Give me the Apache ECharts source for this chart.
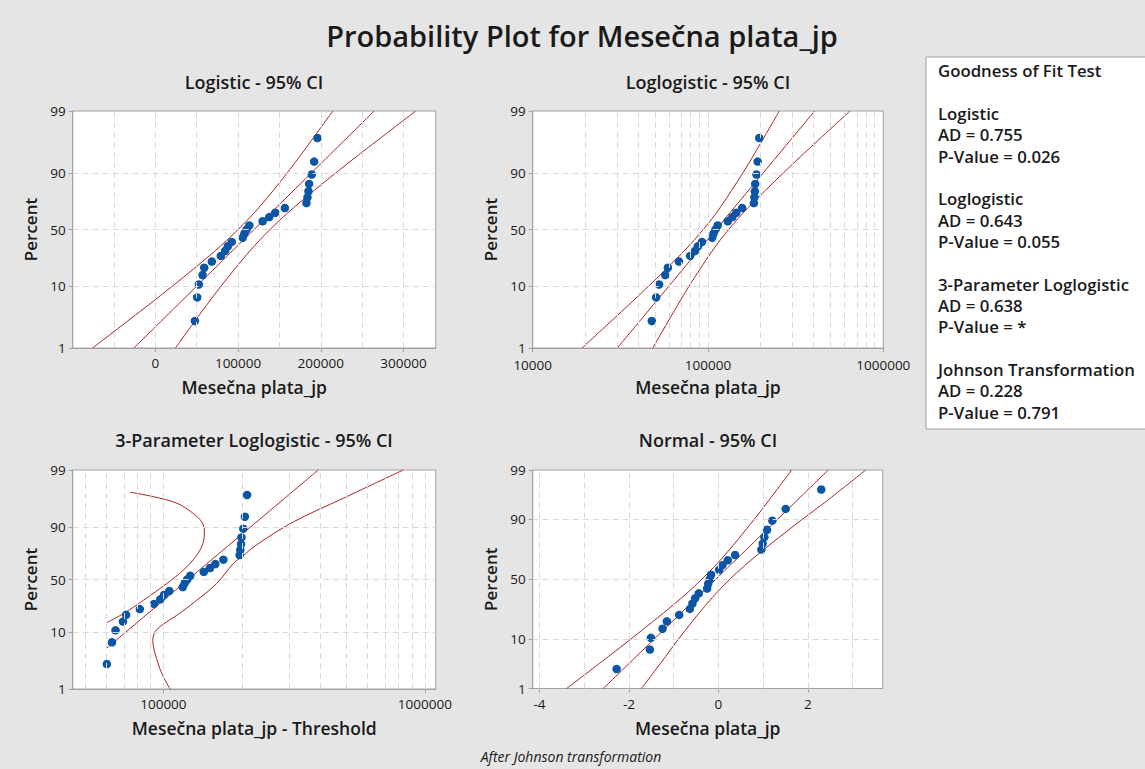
<!DOCTYPE html>
<html>
<head>
<meta charset="utf-8">
<script src="https://cdn.jsdelivr.net/npm/echarts@6/dist/echarts.min.js"></script>
<style>
html,body{margin:0;padding:0;background:#ffffff;}
#chart{width:1145px;height:769px;}
</style>
</head>
<body>
<div id="chart"></div>
<script>
// ================= DATA =================
// plotting positions (percent) of the 25 ranked observations
const PLOT_PCT = [2.8, 6.7, 10.6, 14.6, 18.5, 22.4, 26.4, 30.3, 34.3, 38.2, 42.1, 46.1, 50.0,
                  53.9, 57.9, 61.8, 65.7, 69.7, 73.6, 77.6, 81.5, 85.4, 89.4, 93.3, 97.2];
// Mesečna plata_jp (sorted)
const SALARY = [47790, 50600, 52610, 57030, 59030, 68270, 79100, 84340, 87550, 92370, 105600, 107600, 110400,
                113650, 129700, 137700, 145000, 156600, 182700, 183900, 185100, 185900, 189100, 192000, 196000];
// 3-parameter loglogistic threshold
const THRESHOLD = -13000;
// values after Johnson transformation
const JOHNSON = [-2.275, -1.532, -1.509, -1.249, -1.152, -0.877, -0.639, -0.580, -0.520, -0.439, -0.253, -0.230, -0.193,
                 -0.164, 0.015, 0.089, 0.208, 0.372, 0.959, 0.989, 1.026, 1.086, 1.204, 1.502, 2.297];

// fitted lines and 95% CI bands: [x, percent]
const LOGI_FIT = [[-25900, 1], [119350, 50], [264600, 99]];
const LOGI_CI_LO = [[-75900, 1], [-9080, 5], [20600, 10], [71500, 30], [100000, 50], [125100, 70], [159500, 90], [177100, 95], [214700, 99]];
const LOGI_CI_HI = [[24200, 1], [61600, 5], [79300, 10], [113800, 30], [138700, 50], [167300, 70], [218200, 90], [247900, 95], [314800, 99]];

const LLOG_FIT = [[30380, 1], [111100, 50], [406000, 99]];
const LLOG_CI_LO = [[19100, 1], [35050, 5], [45830, 10], [72740, 30], [94000, 50], [117200, 70], [158200, 90], [184400, 95], [255200, 99]];
const LLOG_CI_HI = [[48370, 1], [66940, 5], [77980, 10], [105250, 30], [131200, 50], [169600, 70], [269300, 90], [352200, 95], [645600, 99]];

// 3-parameter loglogistic (x = Mesečna plata_jp - Threshold)
const TPLL_FIT = [[60400, 5.2], [124400, 50], [391000, 99]];
const TPLL_CI_LO = [[60780, 14.1], [70350, 19.3], [83880, 29.5], [103000, 45.8], [119200, 59.7], [134200, 73.5], [142200, 82.9],
                    [143500, 88.8], [140200, 91.8], [130200, 94.1], [112500, 96.1], [91580, 97.0], [74640, 97.5]];
const TPLL_CI_HI = [[106100, 1], [98600, 1.9], [92960, 4.3], [91090, 7.2], [92960, 10.0], [98600, 12.8], [112500, 18.2],
                    [134200, 29.5], [159900, 45.8], [185100, 66.2], [199300, 72.1], [226000, 80.8],
                    [314000, 91.8], [487400, 96.8], [826000, 99]];

const NORM_FIT = [[-2.573, 1], [-0.059, 50], [2.455, 99]];
const NORM_CI_LO = [[-3.392, 1], [-2.457, 5], [-1.966, 10], [-0.981, 30], [-0.372, 50], [0.151, 70], [0.805, 90], [1.099, 95], [1.636, 99]];
const NORM_CI_HI = [[-1.720, 1], [-1.180, 5], [-0.900, 10], [-0.260, 30], [0.254, 50], [0.875, 70], [1.880, 90], [2.390, 95], [3.290, 99]];

// tick labels and grid lines
const Y_TICKS = [1, 10, 50, 90, 99];
const Y_GRID = [10, 50, 90];
const X1_TICKS = [0, 100000, 200000, 300000];
const X1_GRID = [-50000, 0, 50000, 100000, 150000, 200000, 250000, 300000];
const X2_TICKS = [10000, 100000, 1000000];
const X2_GRID = [20000, 30000, 40000, 50000, 60000, 70000, 80000, 90000, 100000, 200000, 300000, 400000, 500000, 600000, 700000, 800000, 900000];
const X3_TICKS = [100000, 1000000];
const X3_GRID = [50000, 60000, 70000, 80000, 90000, 100000, 200000, 300000, 400000, 500000, 600000, 700000, 800000, 900000, 1000000];
const X4_TICKS = [-4, -2, 0, 2];
const X4_GRID = [-4, -3, -2, -1, 0, 1, 2, 3];

// texts
const MAIN_TITLE = 'Probability Plot for Mesečna plata_jp';
const PANEL_TITLES = ['Logistic - 95% CI', 'Loglogistic - 95% CI', '3-Parameter Loglogistic - 95% CI', 'Normal - 95% CI'];
const X_NAMES = ['Mesečna plata_jp', 'Mesečna plata_jp', 'Mesečna plata_jp - Threshold', 'Mesečna plata_jp'];
const Y_NAME = 'Percent';
const FOOTNOTE = 'After Johnson transformation';
const GOF_TITLE = 'Goodness of Fit Test';
const GOF_DIST = ['Logistic', 'Loglogistic', '3-Parameter Loglogistic', 'Johnson Transformation'];
const GOF_AD = ['0.755', '0.643', '0.638', '0.228'];
const GOF_P = ['0.026', '0.055', '*', '0.791'];

// ================= SCALE HELPERS (probability / log axes) =================
function invNorm(p) {
  const a = [-3.969683028665376e+01, 2.209460984245205e+02, -2.759285104469687e+02, 1.383577518672690e+02, -3.066479806614716e+01, 2.506628277459239e+00];
  const b = [-5.447609879822406e+01, 1.615858368580409e+02, -1.556989798598866e+02, 6.680131188771972e+01, -1.328068155288572e+01];
  const c = [-7.784894002430293e-03, -3.223964580411365e-01, -2.400758277161838e+00, -2.549732539343734e+00, 4.374664141464968e+00, 2.938163982698783e+00];
  const d = [7.784695709041462e-03, 3.224671290700398e-01, 2.445134137142996e+00, 3.754408661907416e+00];
  const pl = 0.02425, ph = 1 - pl;
  let q, r;
  if (p < pl) { q = Math.sqrt(-2 * Math.log(p)); return (((((c[0]*q+c[1])*q+c[2])*q+c[3])*q+c[4])*q+c[5]) / ((((d[0]*q+d[1])*q+d[2])*q+d[3])*q+1); }
  if (p <= ph) { q = p - 0.5; r = q*q; return (((((a[0]*r+a[1])*r+a[2])*r+a[3])*r+a[4])*r+a[5])*q / (((((b[0]*r+b[1])*r+b[2])*r+b[3])*r+b[4])*r+1); }
  q = Math.sqrt(-2 * Math.log(1 - p));
  return -(((((c[0]*q+c[1])*q+c[2])*q+c[3])*q+c[4])*q+c[5]) / ((((d[0]*q+d[1])*q+d[2])*q+d[3])*q+1);
}
const tLogit = p => Math.log(p / (100 - p));
const tProbit = p => invNorm(p / 100);
const tLin = v => v;
const tLog = v => Math.log10(v);
const tLogShift = v => Math.log10(v - THRESHOLD);

function nearestLabel(v, ticks, tf) {
  let best = ticks[0], bd = Infinity;
  ticks.forEach(t => { const d = Math.abs(tf(t) - v); if (d < bd) { bd = d; best = t; } });
  return String(best);
}

// ================= LAYOUT =================
const FONT = "'Open Sans', 'Noto Sans', 'DejaVu Sans', sans-serif";
const TXT = '#1a1a1a';
const FRAME = '#a0a0a0';
const GRIDC = '#d9d9d9';
const CURVE = '#a82424';
const DOT = '#0b55a6';

const PANELS = [
  { rect: [72.7, 111, 363, 237], xr: [-100000, 339000], px: tLin, cx: tLin, ty: tLogit, xMargin: 8,
    xTicks: X1_TICKS, xGrid: X1_GRID, xv: SALARY, curves: [LOGI_CI_LO, LOGI_CI_HI, LOGI_FIT] },
  { rect: [532.7, 111, 350.6, 237], xr: [10000, 1000000], px: tLog, cx: tLog, ty: tLogit, xMargin: 10,
    xTicks: X2_TICKS, xGrid: X2_GRID, xv: SALARY, curves: [LLOG_CI_LO, LLOG_CI_HI, LLOG_FIT] },
  { rect: [72.7, 470, 363, 219], xr: [45000, 1100000], px: tLogShift, cx: tLog, ty: tLogit, xMargin: 8,
    xTicks: X3_TICKS, xGrid: X3_GRID, xv: SALARY, curves: [TPLL_CI_LO, TPLL_CI_HI, TPLL_FIT] },
  { rect: [532.7, 470, 350, 218.5], xr: [-4.15, 3.67], px: tLin, cx: tLin, ty: tProbit, xMargin: 8,
    xTicks: X4_TICKS, xGrid: X4_GRID, xv: JOHNSON, curves: [NORM_CI_LO, NORM_CI_HI, NORM_FIT] }
];

const grids = [], xAxes = [], yAxes = [], series = [];
PANELS.forEach((p, i) => {
  grids.push({ left: p.rect[0], top: p.rect[1], width: p.rect[2], height: p.rect[3], show: true,
               backgroundColor: '#ffffff', borderColor: FRAME, borderWidth: 1 });
  const xtf = p.cx;
  xAxes.push({
    gridIndex: i, type: 'value', min: xtf(p.xr[0]), max: xtf(p.xr[1]),
    splitLine: { show: false },
    axisLine: { show: true, onZero: false, lineStyle: { color: FRAME } },
    axisTick: { show: true, customValues: p.xTicks.map(xtf), length: 4, lineStyle: { color: FRAME } },
    axisLabel: { customValues: p.xTicks.map(xtf), formatter: v => nearestLabel(v, p.xTicks, xtf),
                 color: TXT, fontSize: 13.5, fontFamily: FONT, margin: p.xMargin },
    name: X_NAMES[i], nameLocation: 'middle', nameGap: 30,
    nameTextStyle: { color: TXT, fontSize: 17.5, fontWeight: 600, fontFamily: FONT }
  });
  yAxes.push({
    gridIndex: i, type: 'value', min: p.ty(1), max: p.ty(99),
    splitLine: { show: false },
    axisLine: { show: true, onZero: false, lineStyle: { color: FRAME } },
    axisTick: { show: true, customValues: Y_TICKS.map(p.ty), length: 4, lineStyle: { color: FRAME } },
    axisLabel: { customValues: Y_TICKS.map(p.ty), formatter: v => nearestLabel(v, Y_TICKS, p.ty),
                 color: TXT, fontSize: 13.5, fontFamily: FONT, margin: 7 },
    name: Y_NAME, nameLocation: 'middle', nameGap: 34,
    nameTextStyle: { color: TXT, fontSize: 17, fontWeight: 600, fontFamily: FONT }
  });
  // dashed reference grid
  series.push({
    type: 'line', xAxisIndex: i, yAxisIndex: i, data: [], silent: true, z: 1,
    markLine: {
      silent: true, symbol: ['none', 'none'], animation: false, label: { show: false },
      lineStyle: { color: GRIDC, width: 1, type: [6, 4] },
      emphasis: { disabled: true },
      data: p.xGrid.map(v => ({ xAxis: xtf(v) })).concat(Y_GRID.map(v => ({ yAxis: p.ty(v) })))
    }
  });
  // CI curves and fit line
  p.curves.forEach(c => {
    series.push({
      type: 'line', xAxisIndex: i, yAxisIndex: i, silent: true, z: 2, symbol: 'none', showSymbol: false,
      smooth: 0.35,
      color: CURVE, itemStyle: { color: CURVE },
      lineStyle: { color: CURVE, width: 1, opacity: 1 },
      emphasis: { disabled: true },
      data: c.map(([x, pc]) => [p.cx(x), p.ty(pc)])
    });
  });
  // observations
  series.push({
    type: 'scatter', xAxisIndex: i, yAxisIndex: i, z: 3, symbolSize: 8.5,
    itemStyle: { color: DOT, opacity: 1 },
    data: p.xv.map((v, k) => [p.px(v), p.ty(PLOT_PCT[k])])
  });
});

// ================= TEXT GRAPHICS =================
function txt(text, x, y, size, weight, align, extra) {
  return { type: 'text', x: x, y: y, silent: true, z: 10,
    style: { text: text, fill: TXT, font: (extra || '') + ' ' + weight + ' ' + size + 'px ' + FONT,
             textAlign: align, textVerticalAlign: 'middle', align: align, verticalAlign: 'middle' } };
}
const graphic = [];
graphic.push(txt(MAIN_TITLE, 582, 35, 29, 600, 'center'));
const TITLE_POS = [[254, 82], [708, 82], [254, 440], [708, 440]];
PANEL_TITLES.forEach((t, i) => graphic.push(txt(t, TITLE_POS[i][0], TITLE_POS[i][1], 18, 600, 'center')));
graphic.push(txt(FOOTNOTE, 571, 756, 14, 'normal', 'center', 'italic'));
// goodness of fit box
graphic.push({ type: 'rect', silent: true, z: 5, shape: { x: 926, y: 57, width: 240, height: 372 },
               style: { fill: '#ffffff', stroke: FRAME, lineWidth: 1 } });
const GOF_X = 938, GOF_Y0 = 70.7, GOF_STEP = 21.35;
graphic.push(txt(GOF_TITLE, GOF_X, GOF_Y0, 16.8, 600, 'left'));
GOF_DIST.forEach((d, g) => {
  const k = 2 + 4 * g;
  graphic.push(txt(d, GOF_X, GOF_Y0 + k * GOF_STEP, 16.8, 600, 'left'));
  graphic.push(txt('AD = ' + GOF_AD[g], GOF_X, GOF_Y0 + (k + 1) * GOF_STEP, 16.8, 600, 'left'));
  graphic.push(txt('P-Value = ' + GOF_P[g], GOF_X, GOF_Y0 + (k + 2) * GOF_STEP, 16.8, 600, 'left'));
});

const chart = echarts.init(document.getElementById('chart'), null, { renderer: 'svg' });
chart.setOption({
  animation: false,
  backgroundColor: '#e5e5e5',
  grid: grids, xAxis: xAxes, yAxis: yAxes, series: series, graphic: graphic
});
</script>
</body>
</html>
